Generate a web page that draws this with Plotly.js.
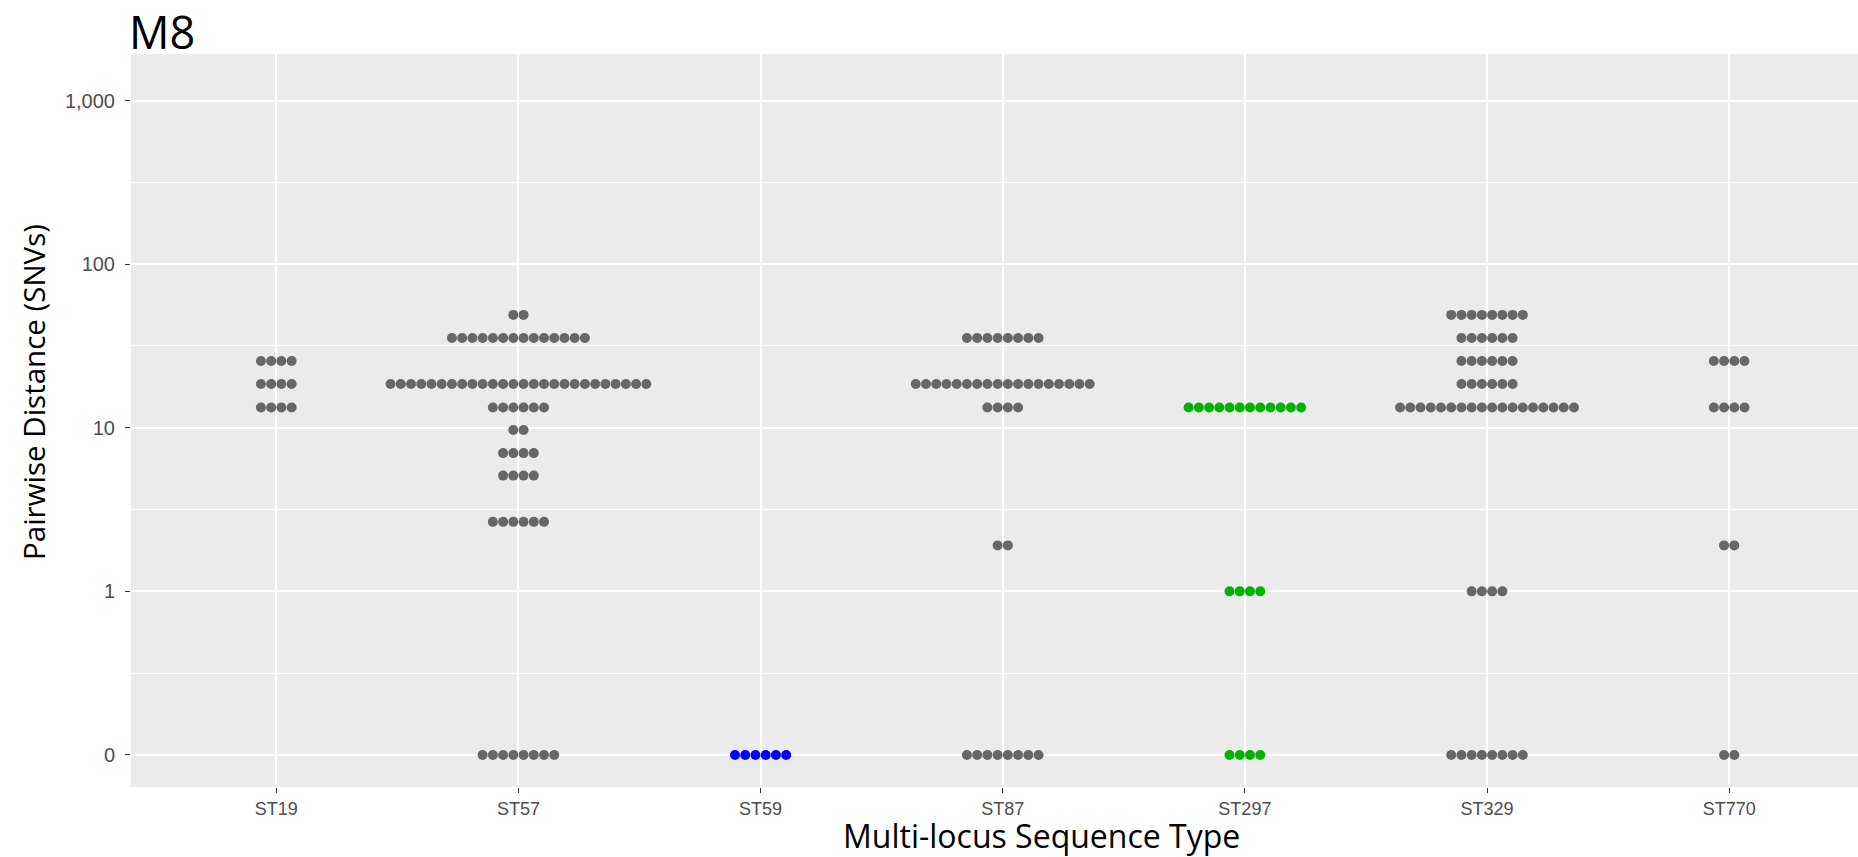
<!DOCTYPE html>
<html>
<head>
<meta charset="utf-8">
<script src="https://cdn.plot.ly/plotly-3.0.1.min.js"></script>
<style>
  html, body { margin: 0; padding: 0; background: #ffffff; }
  #chart { width: 1858px; height: 857px; }
</style>
</head>
<body>
<div id="chart"></div>
<script>
// ---- Data ----
const categories = ['ST19', 'ST57', 'ST59', 'ST87', 'ST297', 'ST329', 'ST770'];
// dot-plot bin centres (pairwise distance, SNVs)
const binValues = [49, 35.4, 25.6, 18.5, 13.3, 9.7, 7.0, 5.1, 2.66, 1.91, 1, 0];
// number of dots in each bin, per sequence type (aligned with binValues)
const countsST19  = [0, 0, 4, 4, 4, 0, 0, 0, 0, 0, 0, 0];
const countsST57  = [2, 14, 0, 26, 6, 2, 4, 4, 6, 0, 0, 8];
const countsST59  = [0, 0, 0, 0, 0, 0, 0, 0, 0, 0, 0, 6];
const countsST87  = [0, 8, 0, 18, 4, 0, 0, 0, 0, 2, 0, 8];
const countsST297 = [0, 0, 0, 0, 12, 0, 0, 0, 0, 0, 4, 4];
const countsST329 = [8, 6, 6, 6, 18, 0, 0, 0, 0, 0, 4, 8];
const countsST770 = [0, 0, 4, 0, 4, 0, 0, 0, 0, 2, 0, 2];
const dotCounts = [countsST19, countsST57, countsST59, countsST87, countsST297, countsST329, countsST770];
const dotColors = ['#676767', '#676767', '#0000FF', '#676767', '#00B300', '#676767', '#676767'];
const yTickValues = [0, 1, 10, 100, 1000];
const yTickLabels = ['0', '1', '10', '100', '1,000'];

// ---- Scale: linear from 0 to 1, log10 above 1 ----
function toAxis(v) { return v < 1 ? v : 1 + Math.log10(v); }

// ---- Layout geometry ----
const W = 1858, H = 857;
const margin = { l: 131, r: 0, t: 54, b: 70 };
const xRange = [-0.6, 6.532];
const yRange = [-0.196, 4.285];
const plotW = W - margin.l - margin.r;
const pxPerUnitX = plotW / (xRange[1] - xRange[0]);
const dotSpacingPx = 10.23;
const dotStep = dotSpacingPx / pxPerUnitX;

const traces = categories.map((cat, ci) => {
  const xs = [], ys = [];
  binValues.forEach((v, bi) => {
    const n = dotCounts[ci][bi];
    for (let k = 0; k < n; k++) {
      xs.push(ci + (k - (n - 1) / 2) * dotStep);
      ys.push(toAxis(v));
    }
  });
  return {
    type: 'scatter', mode: 'markers', name: cat,
    x: xs, y: ys,
    marker: { size: 10, color: dotColors[ci], line: { width: 0 } },
    hoverinfo: 'skip', showlegend: false, cliponaxis: true
  };
});

const xTickFont = { family: 'Liberation Sans, Arial, sans-serif', size: 18, color: '#4D4D4D' };
const yTickFont = { family: 'Liberation Sans, Arial, sans-serif', size: 20, color: '#4D4D4D' };
const plotH = H - margin.t - margin.b;
function py(pixelY) { return (H - margin.b - pixelY) / plotH; }
function px(pixelX) { return (pixelX - margin.l) / plotW; }

const layout = {
  width: W, height: H,
  margin: margin,
  paper_bgcolor: '#FFFFFF',
  plot_bgcolor: '#EBEBEB',
  showlegend: false,
  xaxis: {
    type: 'linear', range: xRange, fixedrange: true,
    tickmode: 'array', tickvals: categories.map((c, i) => i), ticktext: categories,
    showgrid: true, gridcolor: '#FFFFFF', gridwidth: 2,
    zeroline: false, showline: false,
    ticks: 'outside', ticklen: 5, tickwidth: 1, tickcolor: '#333333',
    tickfont: xTickFont
  },
  yaxis: {
    type: 'linear', range: yRange, fixedrange: true,
    tickmode: 'array', tickvals: yTickValues.map(toAxis), ticktext: yTickLabels,
    showgrid: true, gridcolor: '#FFFFFF', gridwidth: 2,
    zeroline: false, showline: false,
    ticks: 'outside', ticklen: 5, tickwidth: 1, tickcolor: '#333333',
    ticklabelstandoff: 6,
    tickfont: yTickFont,
    minor: { tickmode: 'linear', tick0: 0.5, dtick: 1, showgrid: true, gridcolor: '#FFFFFF', gridwidth: 1, ticks: '' }
  },
  annotations: [
    { text: 'M8', xref: 'paper', yref: 'paper', x: px(127), y: py(31),
      xanchor: 'left', yanchor: 'middle', showarrow: false,
      font: { family: 'Open Sans, sans-serif', size: 45, color: '#000000' } },
    { text: 'Multi-locus Sequence Type', xref: 'paper', yref: 'paper', x: px(1041), y: py(835),
      xanchor: 'center', yanchor: 'middle', showarrow: false,
      font: { family: 'Open Sans, sans-serif', size: 32, color: '#000000' } },
    { text: 'Pairwise Distance (SNVs)', xref: 'paper', yref: 'paper', x: px(34), y: py(392),
      xanchor: 'center', yanchor: 'middle', textangle: -90, showarrow: false,
      font: { family: 'Open Sans, sans-serif', size: 29.5, color: '#000000' } }
  ]
};

Plotly.newPlot('chart', traces, layout, { staticPlot: true, displayModeBar: false });
</script>
</body>
</html>
